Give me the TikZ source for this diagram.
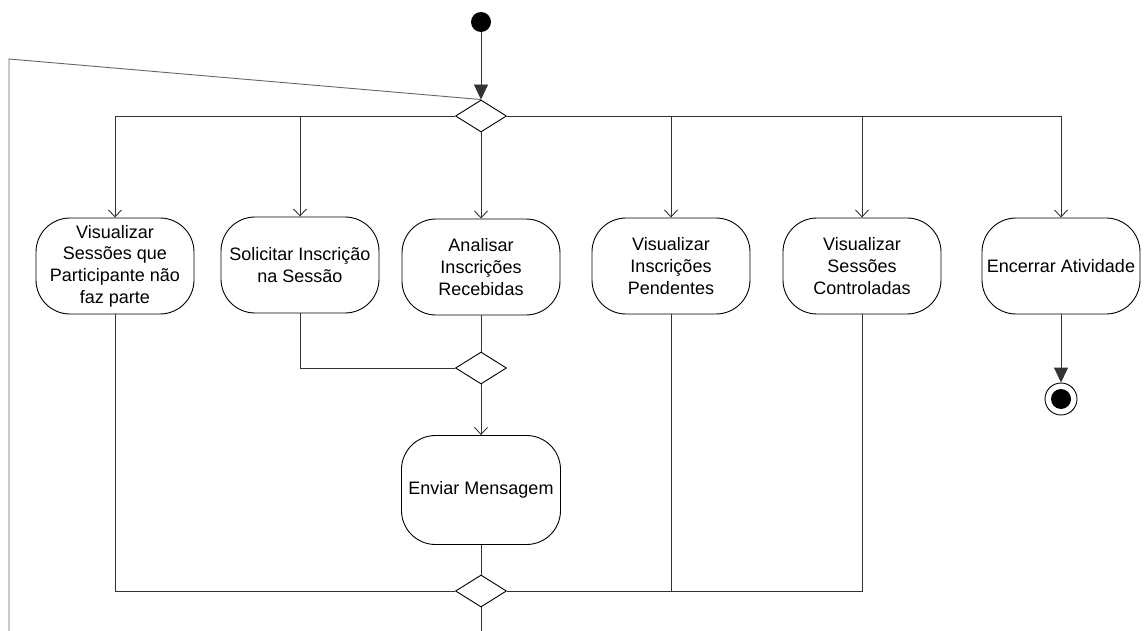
\documentclass[tikz,border=0pt]{standalone}
\usepackage{fontspec}
\setmainfont{Liberation Sans}
\usetikzlibrary{arrows.meta,shapes.geometric}
\begin{document}
\begin{tikzpicture}[x=1pt,y=-1pt,
  conn/.style={draw=black!80, line width=0.9pt},
  openarrow/.style={conn, -{Straight Barb[length=7pt,width=13pt,line width=0.9pt]}},
  fillarrow/.style={conn, -{Triangle[length=15pt,width=14pt]}},
  actbox/.style={draw=black, line width=0.9pt, rounded corners=34pt, minimum width=158pt, minimum height=96pt, align=center, inner sep=0pt, font=\fontsize{18}{21.7}\selectfont},
  decision/.style={draw=black, line width=0.9pt, diamond, aspect=1.5625, minimum width=51pt, minimum height=32pt, inner sep=0pt},
  startnode/.style={circle, fill=black, minimum size=20pt, inner sep=0pt},
  endnode/.style={circle, draw=black, line width=0.9pt, minimum size=32pt, inner sep=0pt, path picture={\fill[black] (path picture bounding box.center) circle (10pt);}}
]
\useasboundingbox (0,0) rectangle (1146,631);

\node[startnode] (start) at (481,22) {};
\node[decision] (d1) at (481,116) {};

\node[actbox] (a1) at (115,266) {Visualizar\\Sessões que\\Participante não\\faz parte};
\node[actbox] (a2) at (300,265) {Solicitar Inscrição\\na Sessão};
\node[actbox] (a3) at (481,267) {Analisar\\Inscrições\\Recebidas};
\node[actbox] (a4) at (671,266) {Visualizar\\Inscrições\\Pendentes};
\node[actbox] (a5) at (862,266) {Visualizar\\Sessões\\Controladas};
\node[actbox] (a6) at (1061,266) {Encerrar Atividade};

\node[decision] (d2) at (481,368) {};
\node[actbox, minimum height=109pt, minimum width=159pt] (a7) at (481,490) {Enviar Mensagem};
\node[decision] (d3) at (481,591) {};

\node[endnode] (fin) at (1061,399) {};

\coordinate (fb) at (9,59);
\coordinate (lb) at (9,631);
\coordinate (bb) at (481,631);

% start
\draw[fillarrow] (start) -- (d1.north);
% loop back
\draw[draw=black!60, line width=0.9pt] (lb) -- (fb) -- (d1.north);
% branches
\draw[openarrow] (d1.west) -| (a1.north);
\draw[openarrow] (d1.west) -| (a2.north);
\draw[openarrow] (d1.south) -- (a3.north);
\draw[openarrow] (d1.east) -| (a4.north);
\draw[openarrow] (d1.east) -| (a5.north);
\draw[openarrow] (d1.east) -| (a6.north);
% merges
\draw[conn] (a2.south) |- (d2.west);
\draw[conn] (a3.south) -- (d2.north);
\draw[openarrow] (d2.south) -- (a7.north);
\draw[conn] (a1.south) |- (d3.west);
\draw[conn] (a7.south) -- (d3.north);
\draw[conn] (a4.south) |- (d3.east);
\draw[conn] (a5.south) |- (d3.east);
\draw[conn] (d3.south) -- (bb);
% end
\draw[fillarrow] (a6.south) -- (fin.north);
\end{tikzpicture}
\end{document}
